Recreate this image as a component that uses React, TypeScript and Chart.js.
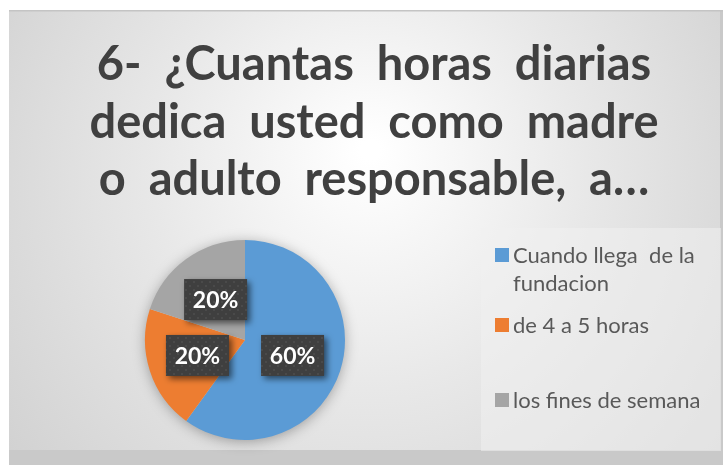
import React, { useEffect, useRef } from "react";
import { Chart, registerables } from "chart.js";
Chart.register(...registerables);

const categories = ["Cuando llega  de la fundacion", "de 4 a 5 horas", "los fines de semana"];
const legendLines = [["Cuando llega  de la", "fundacion"], ["de 4 a 5 horas"], ["los fines de semana"]];
const values = [60, 20, 20];
const percentLabels = ["60%", "20%", "20%"];
const colors = ["#5B9BD5", "#ED7D31", "#A5A5A5"];
const titleLines = ["6-  ¿Cuantas  horas  diarias", "dedica  usted  como  madre", "o  adulto  responsable,  a…"];

const W = 723;
const H = 465;

function makePattern(ctx: CanvasRenderingContext2D) {
  const c = document.createElement("canvas");
  c.width = 8;
  c.height = 8;
  const p = c.getContext("2d")!;
  p.fillStyle = "#3f3f3f";
  p.fillRect(0, 0, 8, 8);
  p.fillStyle = "#4a4a4a";
  p.fillRect(1, 1, 2, 2);
  p.fillRect(5, 5, 2, 2);
  return ctx.createPattern(c, "repeat");
}

const backgroundPlugin = {
  id: "bg",
  beforeDraw(chart: any) {
    const ctx = chart.ctx as CanvasRenderingContext2D;
    ctx.save();
    ctx.fillStyle = "#ffffff";
    ctx.fillRect(0, 0, W, H);
    ctx.fillStyle = "#c9c9c9";
    ctx.fillRect(9, 10, W - 9, H - 10);
    const g = ctx.createRadialGradient(370, 150, 10, 370, 200, 470);
    g.addColorStop(0, "#ffffff");
    g.addColorStop(0.45, "#e8e8e8");
    g.addColorStop(1, "#cfcfcf");
    ctx.fillStyle = g;
    ctx.fillRect(9, 10, 711, 440);
    ctx.fillStyle = "#c4c4c4";
    ctx.fillRect(9, 10, W - 9, 1.5);
    // title
    ctx.fillStyle = "#404040";
    ctx.font = "bold 47px Lato";
    ctx.textAlign = "center";
    ctx.textBaseline = "middle";
    titleLines.forEach((t, i) => ctx.fillText(t, 374, 65 + i * 57.5));
    // legend box
    ctx.fillStyle = "rgba(240,240,240,0.55)";
    ctx.fillRect(481, 228, 240, 223);
    ctx.font = "22px Lato";
    ctx.textAlign = "left";
    const ys = [[255, 283], [325], [400]];
    legendLines.forEach((lines, i) => {
      ctx.fillStyle = colors[i];
      ctx.fillRect(495, ys[i][0] - 7, 14, 14);
      ctx.fillStyle = "#595959";
      lines.forEach((l, j) => ctx.fillText(l, 513, ys[i][j] + 1));
    });
    ctx.restore();
  },
  beforeDatasetsDraw(chart: any) {
    const ctx = chart.ctx as CanvasRenderingContext2D;
    const arc = chart.getDatasetMeta(0).data[0];
    if (!arc) return;
    ctx.save();
    ctx.shadowColor = "rgba(0,0,0,0.35)";
    ctx.shadowBlur = 14;
    ctx.shadowOffsetX = 0;
    ctx.shadowOffsetY = 2;
    ctx.fillStyle = "#d0d0d0";
    ctx.beginPath();
    ctx.arc(arc.x, arc.y, arc.outerRadius - 1, 0, Math.PI * 2);
    ctx.fill();
    ctx.restore();
  },
  afterDatasetsDraw(chart: any) {
    const ctx = chart.ctx as CanvasRenderingContext2D;
    const pat = makePattern(ctx);
    const meta = chart.getDatasetMeta(0);
    meta.data.forEach((el: any, i: number) => {
      const p = el.tooltipPosition();
      const bw = 63, bh = 41;
      ctx.save();
      ctx.shadowColor = "rgba(0,0,0,0.55)";
      ctx.shadowBlur = 6;
      ctx.shadowOffsetX = 3;
      ctx.shadowOffsetY = 3;
      ctx.fillStyle = pat || "#404040";
      ctx.fillRect(p.x - bw / 2, p.y - bh / 2, bw, bh);
      ctx.restore();
      ctx.save();
      ctx.fillStyle = "#ffffff";
      ctx.font = "bold 23px Lato";
      ctx.textAlign = "center";
      ctx.textBaseline = "middle";
      ctx.fillText(percentLabels[i], p.x, p.y + 1);
      ctx.restore();
    });
  },
};

export default function App() {
  const ref = useRef<HTMLCanvasElement | null>(null);
  useEffect(() => {
    if (!ref.current) return;
    const chart = new Chart(ref.current, {
      type: "pie",
      data: {
        labels: categories,
        datasets: [
          {
            data: values,
            backgroundColor: colors,
            borderWidth: 0,
          },
        ],
      },
      options: {
        responsive: false,
        animation: false,
        layout: { padding: { left: 145, top: 240, right: W - 345, bottom: H - 440 } },
        plugins: {
          legend: { display: false },
          title: { display: false },
          tooltip: { enabled: false },
        },
      },
      plugins: [backgroundPlugin],
    });
    return () => chart.destroy();
  }, []);
  return (
    <div style={{ position: "fixed", left: 0, top: 0, width: W, height: H }}>
      <canvas ref={ref} width={W} height={H} style={{ display: "block" }} />
    </div>
  );
}
